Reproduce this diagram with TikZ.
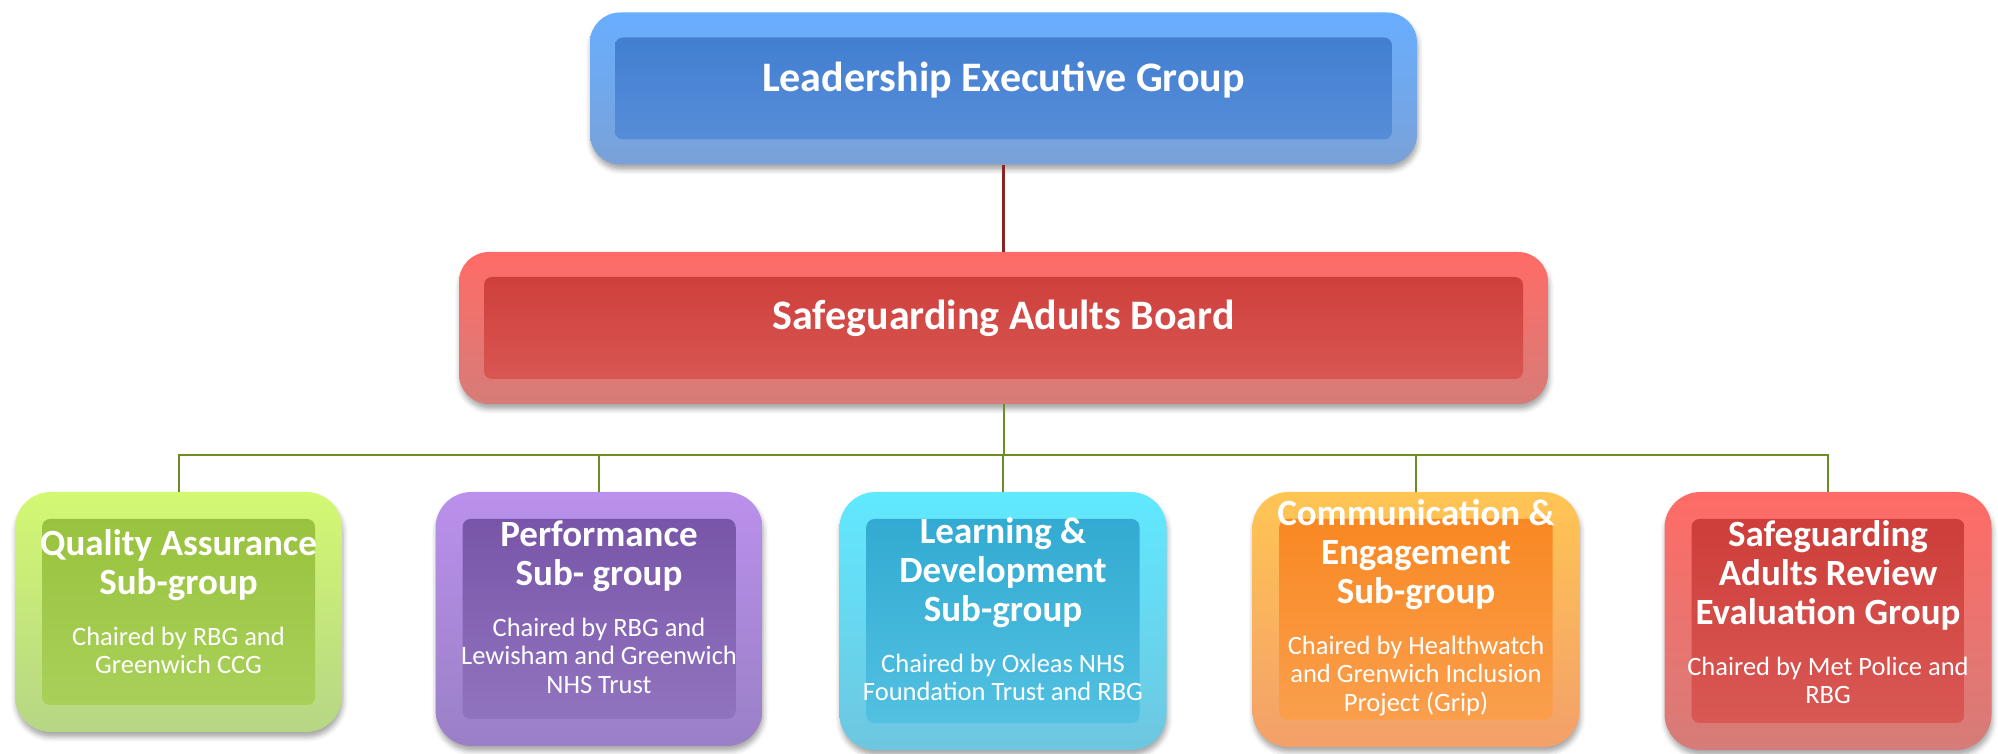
\documentclass[tikz,border=0pt]{standalone}
\usepackage{fontspec}
\setmainfont{Carlito}
\usepackage{xcolor}
\usetikzlibrary{positioning,calc,shadows.blur}

% band top / face top / face bottom / band bottom
\definecolor{legBand}{HTML}{68AEFF}
\definecolor{legTop}{HTML}{3D7BCE}
\definecolor{legBot}{HTML}{5C91DB}
\definecolor{legBase}{HTML}{7AA1D8}
\definecolor{sabBand}{HTML}{FF6B66}
\definecolor{sabTop}{HTML}{CC3A36}
\definecolor{sabBot}{HTML}{DB5C58}
\definecolor{sabBase}{HTML}{D67C78}
\definecolor{qaBand}{HTML}{D3F872}
\definecolor{qaTop}{HTML}{97C03A}
\definecolor{qaBot}{HTML}{ABD35E}
\definecolor{qaBase}{HTML}{B6D685}
\definecolor{perfBand}{HTML}{BA90EC}
\definecolor{perfTop}{HTML}{7551A5}
\definecolor{perfBot}{HTML}{9478C2}
\definecolor{perfBase}{HTML}{9A80C6}
\definecolor{ldBand}{HTML}{60E9FF}
\definecolor{ldTop}{HTML}{2EA7CF}
\definecolor{ldBot}{HTML}{56C4E4}
\definecolor{ldBase}{HTML}{6EC6E0}
\definecolor{ceBand}{HTML}{FFC553}
\definecolor{ceTop}{HTML}{F8851D}
\definecolor{ceBot}{HTML}{FBA252}
\definecolor{ceBase}{HTML}{F3A06A}
\definecolor{treeGreen}{HTML}{6B8E23}
\definecolor{topRed}{HTML}{8B2525}

% fixed word spaces (the node's ragged setting would stretch them)
\newcommand{\fixspaces}{\spaceskip=\fontdimen2\font\relax\xspaceskip=\fontdimen2\font\relax}
\newcommand{\titlefont}{\bfseries\fontsize{37}{39}\selectfont\fixspaces}
\newcommand{\chairfont}{\mdseries\fontsize{26.5}{28.5}\selectfont\fixspaces}

\tikzset{
  bevel/.style n args={5}{% band, face top, face bottom, base, inset
    draw=none, inner sep=0pt,
    top color=#1, middle color=#2, bottom color=#4,
    blur shadow={shadow xshift=1pt, shadow yshift=-5pt,
      shadow blur radius=5pt, shadow opacity=35},
    path picture={
      \shade[top color=#2, bottom color=#3, rounded corners=8pt]
        ([shift={(#5,-#5)}]path picture bounding box.north west) rectangle
        ([shift={(-#5,#5)}]path picture bounding box.south east);
    }},
  wide/.style={rounded corners=30pt, minimum width=#1, minimum height=152pt},
  subbox/.style={rounded corners=36pt, minimum width=327pt, minimum height=#1},
  headtext/.style={text=white, font=\bfseries\fontsize{42}{50}\selectfont},
  subtext/.style={text=white, text width=320pt, align=center, inner sep=0pt, anchor=base},
  treeline/.style={draw=treeGreen, line width=2pt},
  topline/.style={draw=topRed, line width=3pt}
}

\begin{document}
\begin{tikzpicture}[x=1pt, y=1pt]
  \useasboundingbox (0,0) rectangle (1998,754);

  % Board levels
  \node[bevel={legBand}{legTop}{legBot}{legBase}{25pt}, wide=827pt] (leg) at (1003.5,665.5) {};
  \node[headtext] (leg-t) at ([yshift=8pt]leg.center) {Leadership Executive Group};
  \node[bevel={sabBand}{sabTop}{sabBot}{sabBase}{25pt}, wide=1089pt] (sab) at (1003.5,426) {};
  \node[headtext] (sab-t) at ([yshift=10pt]sab.center) {Safeguarding Adults Board};

  % Sub-groups (tops at y=262)
  \node[subbox=240pt, bevel={qaBand}{qaTop}{qaBot}{qaBase}{27pt}] (qa) at (178.5,142) {};
  \node[subbox=254pt, bevel={perfBand}{perfTop}{perfBot}{perfBase}{27pt}] (perf) at (599,135) {};
  \node[subbox=258pt, bevel={ldBand}{ldTop}{ldBot}{ldBase}{27pt}] (ld) at (1003,133) {};
  \node[subbox=255pt, bevel={ceBand}{ceTop}{ceBot}{ceBase}{27pt}] (ce) at (1416,134.5) {};
  \node[subbox=258pt, bevel={sabBand}{sabTop}{sabBot}{sabBase}{27pt}] (sar) at (1828,133) {};

  \node[subtext] (qa-t) at (qa.center |- 0,198)
    {{\titlefont Quality Assurance\\Sub-group\par}\vspace{22pt}%
     {\chairfont Chaired by RBG and\\Greenwich CCG\par}};
  \node[subtext] (perf-t) at (perf.center |- 0,207)
    {{\titlefont Performance\\Sub- group\par}\vspace{22pt}%
     {\chairfont Chaired by RBG and\\Lewisham and Greenwich\\NHS Trust\par}};
  \node[subtext] (ld-t) at (ld.center |- 0,210)
    {{\titlefont Learning \&\\Development\\Sub-group\par}\vspace{22pt}%
     {\chairfont Chaired by Oxleas NHS\\Foundation Trust and RBG\par}};
  \node[subtext] (ce-t) at (ce.center |- 0,228)
    {{\titlefont Communication \&\\Engagement\\Sub-group\par}\vspace{22pt}%
     {\chairfont Chaired by Healthwatch\\and Grenwich Inclusion\\Project (Grip)\par}};
  \node[subtext] (sar-t) at (sar.center |- 0,207)
    {{\titlefont Safeguarding\\Adults Review\\Evaluation Group\par}\vspace{22pt}%
     {\chairfont Chaired by Met Police and\\RBG\par}};

  % Connectors
  \draw[topline] (leg) -- (sab);
  \foreach \b in {qa,perf,ld,ce,sar}
    \draw[treeline] (sab.south) -- ++(0,-51) -| (\b.north);
\end{tikzpicture}
\end{document}
